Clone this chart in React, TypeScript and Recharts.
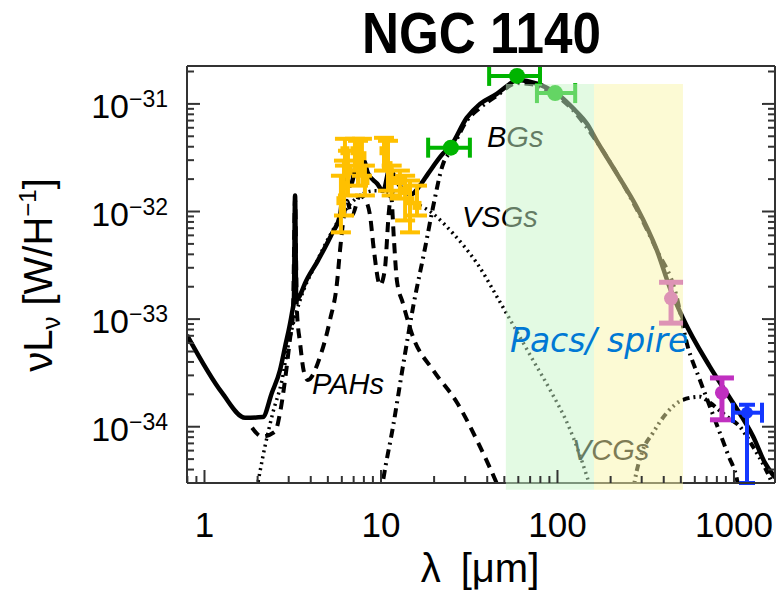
import React from "react";
import {
  ComposedChart,
  Line,
  Scatter,
  ErrorBar,
  XAxis,
  YAxis,
  ReferenceArea,
} from "recharts";

const WIDTH = 780;
const HEIGHT = 592;
const SANS = "'Liberation Sans', Arial, Helvetica, sans-serif";
const FRAME = "#333";

const LAMBDA_RANGE = [0.796, 1708];
const LUM_RANGE = [3.0e-35, 2.25e-31];
const LAMBDA_DECADES = [0.1, 1, 10, 100, 1000];
const LUM_DECADES = [1e-35, 1e-34, 1e-33, 1e-32, 1e-31];
const MINOR_STEPS = [1, 2, 3, 4, 5, 6, 7, 8, 9];

// Pacs / Spire shaded bands (µm) and their vertical extent
const BAND_EDGES = [51, 161, 514];
const BAND_TOP = 1.53e-31;
const BAND_BOTTOM = 2.6e-35;

// model curves: [lambda (µm), nuLnu (W/H)]
const totalModel = [
  [0.796, 7.1e-34], [1.256, 2.07e-34], [1.7, 1.21e-34], [2.14, 1.23e-34],
  [2.41, 2.07e-34], [2.68, 3.37e-34], [2.86, 5.51e-34], [3.13, 1.14e-33],
  [3.21, 1.5e-33], [3.26, 1.41e-32], [3.31, 1.5e-33], [3.48, 1.67e-33],
  [3.71, 2.15e-33], [4.4, 3.52e-33], [5.28, 6.25e-33], [5.86, 9.18e-33],
  [6.25, 2.15e-32], [6.7, 1.74e-32], [7.4, 2.97e-32], [8.0, 2.97e-32],
  [8.4, 2.3e-32], [9.5, 1.82e-32], [10.3, 1.56e-32], [11.2, 2.5e-32],
  [12.2, 1.94e-32], [13.5, 1.56e-32], [14.9, 1.45e-32], [16.6, 1.74e-32],
  [18.5, 2.25e-32], [22.4, 3.44e-32], [24.9, 4.08e-32], [30.6, 7.42e-32],
  [36.4, 1.0e-31], [45.3, 1.24e-31], [51.9, 1.47e-31], [58.9, 1.67e-31],
  [67.1, 1.63e-31], [87, 1.41e-31], [103, 1.19e-31], [122, 9.18e-32],
  [147, 6.53e-32], [167, 4.54e-32], [217, 2.25e-32], [282, 1.09e-32],
  [366, 4.35e-33], [434, 1.94e-33], [514, 1.02e-33], [731, 3.6e-34],
  [987, 1.67e-34], [1286, 8.07e-35], [1496, 4.64e-35], [1708, 3.37e-35],
];

const pahModel = [
  [1.86, 9.8e-35], [2.12, 8.1e-35], [2.51, 9.0e-35], [2.68, 1.35e-34],
  [2.86, 2.72e-34], [3.05, 6.5e-34], [3.17, 1.1e-33], [3.26, 1.3e-32],
  [3.34, 1.2e-33], [3.48, 6.0e-34], [3.65, 3.3e-34], [3.85, 2.72e-34],
  [4.51, 4.45e-34], [5.14, 9.8e-34], [5.63, 2.15e-33], [5.86, 4.35e-33],
  [6.17, 9.18e-33], [6.4, 1.26e-32], [6.85, 9.18e-33], [7.6, 1.41e-32],
  [8.2, 1.26e-32], [8.67, 9.18e-33], [9.12, 4.35e-33], [9.87, 2.07e-33],
  [10.5, 2.84e-33], [11.1, 1.02e-32], [11.4, 1.41e-32], [11.85, 5.38e-33],
  [12.3, 2.3e-33], [13.3, 1.41e-33], [15.2, 6.81e-34], [19.7, 3.37e-34],
  [27.0, 1.67e-34], [36.4, 6.53e-35], [46, 2.8e-35], [50, 2.0e-35],
];

const vsgModel = [
  [1.93, 2.1e-35], [2.2, 6.53e-35], [2.44, 1.35e-34], [2.75, 2.72e-34],
  [2.97, 5.51e-34], [3.48, 1.5e-33], [4.23, 3.16e-33], [5.14, 6.0e-33],
  [6.25, 1.02e-32], [7.6, 1.41e-32], [9.24, 1.56e-32], [11.2, 1.5e-32],
  [14.6, 1.26e-32], [19.7, 9.57e-33], [25.6, 6.25e-33], [35.0, 3.3e-33],
  [49.1, 1.29e-33], [72.6, 4.17e-34], [90.8, 2.2e-34], [118, 9.37e-35],
  [147, 3.44e-35], [158, 2.34e-35],
];

const bgModel = [
  [9.9, 2.1e-35], [10.3, 3.23e-35], [11.7, 1.0e-34], [13.3, 3.6e-34],
  [15.2, 1.29e-33], [17.8, 4.64e-33], [19.7, 1.09e-32], [22.5, 2.78e-32],
  [24.9, 3.67e-32], [30.6, 6.96e-32], [36.4, 9.18e-32], [45.3, 1.19e-31],
  [58.9, 1.56e-31], [69.9, 1.53e-31], [87, 1.35e-31], [122, 8.8e-32],
  [167, 4.45e-32], [282, 1.04e-32], [366, 4.35e-33], [463, 1.86e-33],
  [548, 5.51e-34], [641, 2.72e-34], [780, 1.16e-34], [925, 5.51e-35],
  [1040, 3.23e-35], [1080, 2.3e-35],
];

const vcgModel = [
  [264, 2.1e-35], [275, 3.23e-35], [301, 5.74e-35], [348, 8.8e-35],
  [417, 1.35e-34], [514, 1.78e-34], [641, 1.9e-34], [731, 1.67e-34],
  [912, 1.24e-34], [1081, 1.0e-34], [1282, 6.53e-35], [1499, 4.17e-35],
  [1708, 2.6e-35],
];

// IRS spectrum: [lambda, value, low, high]
const irsPoints = [
  [5.93, 1.26e-32, 6.4e-33, 2.15e-32],
  [6.17, 1.74e-32, 9.18e-33, 2.97e-32],
  [6.25, 3.67e-32, 2.67e-32, 4.74e-32],
  [6.5, 2.4e-32, 1.41e-32, 3.67e-32],
  [7.12, 3.67e-32, 2.4e-32, 4.74e-32],
  [7.41, 2.67e-32, 1.74e-32, 4.54e-32],
  [7.8, 3.3e-32, 2.15e-32, 4.74e-32],
  [8.11, 1.94e-32, 1.41e-32, 2.67e-32],
  [10.4, 3.67e-32, 2.4e-32, 4.84e-32],
  [10.96, 2.67e-32, 1.56e-32, 4.54e-32],
  [11.5, 1.94e-32, 1.41e-32, 2.67e-32],
  [12.8, 1.94e-32, 1.32e-32, 2.4e-32],
  [13.7, 1.56e-32, 8.26e-33, 2.15e-32],
  [14.6, 1.26e-32, 6.4e-33, 1.94e-32],
  [16.0, 1.14e-32, 9.18e-33, 1.74e-32],
];

// MIPS / PACS photometry: [lambda, value, lambda low, lambda high]
const farIrPoints = [
  [24.9, 3.92e-32, 18.5, 31.9],
  [59, 1.82e-31, 41, 79.6],
  [97, 1.26e-31, 76.5, 126],
];

// submm: [lambda, value, low, high]
const submmPoints = [
  [440, 1.56e-33, 9.18e-34, 2.2e-33],
  [855, 2.07e-34, 1.16e-34, 2.84e-34],
];

// mm: [lambda, value, lambda low, lambda high, low, high]
const mmPoints = [[1185, 1.35e-34, 987, 1442, 3.0e-35, 1.6e-34]];

const curve = (pts: number[][]) => pts.map(([x, y]) => ({ x, y }));

const irsData = irsPoints.map(([x, y, lo, hi]) => ({ x, y, ey: [y - lo, hi - y] }));
const farIrData = farIrPoints.map(([x, y, lo, hi]) => ({ x, y, ex: [x - lo, hi - x] }));
const submmData = submmPoints.map(([x, y, lo, hi]) => ({ x, y, ey: [y - lo, hi - y] }));
const mmData = mmPoints.map(([x, y, xlo, xhi, lo, hi]) => ({
  x,
  y,
  ex: [x - xlo, xhi - x],
  ey: [y - lo, hi - y],
}));

const logTicks = (decades: number[], range: number[]) => {
  const out: number[] = [];
  decades.forEach((d) =>
    MINOR_STEPS.forEach((s) => {
      const v = d * s;
      if (v >= range[0] * 1.001 && v <= range[1]) out.push(v);
    })
  );
  return out;
};
const xTicks = logTicks(LAMBDA_DECADES, LAMBDA_RANGE);
const yTicks = logTicks(LUM_DECADES, LUM_RANGE);

const isMajor = (v: number) => {
  const l = Math.log10(v);
  return Math.abs(l - Math.round(l)) < 1e-6;
};

const MAJOR_LEN = 13;
const MINOR_LEN = 7;

function BottomTick({ x, y, payload }: any) {
  const major = isMajor(payload.value);
  return (
    <g>
      <line x1={x} x2={x} y1={y} y2={y - (major ? MAJOR_LEN : MINOR_LEN)} stroke={FRAME} strokeWidth={2} />
      {major && (
        <text x={x} y={y + 54} textAnchor="middle" fontSize={35} fontFamily={SANS} fill="#000">
          {Math.round(payload.value)}
        </text>
      )}
    </g>
  );
}

function TopTick({ x, y, payload }: any) {
  const major = isMajor(payload.value);
  return <line x1={x} x2={x} y1={y} y2={y + (major ? MAJOR_LEN : MINOR_LEN)} stroke={FRAME} strokeWidth={2} />;
}

function LeftTick({ x, y, payload }: any) {
  const major = isMajor(payload.value);
  const exp = Math.round(Math.log10(payload.value));
  return (
    <g>
      <line x1={x} x2={x + (major ? MAJOR_LEN : MINOR_LEN)} y1={y} y2={y} stroke={FRAME} strokeWidth={2} />
      {major && (
        <text x={x - 19} y={y + 14} textAnchor="end" fontSize={34} fontFamily={SANS} fill="#000">
          10
          <tspan fontSize={23} dy={-11}>
            {"\u2212" + Math.abs(exp)}
          </tspan>
        </text>
      )}
    </g>
  );
}

function RightTick({ x, y, payload }: any) {
  const major = isMajor(payload.value);
  return <line x1={x} x2={x - (major ? MAJOR_LEN : MINOR_LEN)} y1={y} y2={y} stroke={FRAME} strokeWidth={2} />;
}

const blob = (r: number, fill: string) => (p: any) =>
  <circle cx={p.cx} cy={p.cy} r={r} fill={fill} />;
const square = (s: number, fill: string) => (p: any) =>
  <rect x={p.cx - s / 2} y={p.cy - s / 2} width={s} height={s} fill={fill} />;

const YELLOW = "#ffc000";
const GREEN = "#00b400";
const MAGENTA = "#c030c0";
const BLUE = "#1438ff";

const annotation = { fontFamily: SANS, fontStyle: "italic", fontSize: 29, fill: "#000" } as const;

const axisCommon = {
  type: "number" as const,
  scale: "log" as const,
  allowDataOverflow: true,
  interval: 0 as const,
  tickSize: 0,
  tickMargin: 0,
  tickLine: false,
  axisLine: { stroke: FRAME, strokeWidth: 2 },
};

export default function App() {
  return (
    <div style={{ position: "absolute", left: 0, top: 0, width: WIDTH, height: HEIGHT, background: "#fff" }}>
      {/* component labels, drawn beneath the shaded bands */}
      <svg width={WIDTH} height={HEIGHT} style={{ position: "absolute", left: 0, top: 0 }}>
        <text x={487} y={147} {...annotation}>BGs</text>
        <text x={462} y={227} {...annotation}>VSGs</text>
        <text x={312} y={394} {...annotation}>PAHs</text>
        <text x={572} y={460} {...annotation}>VCGs</text>
      </svg>

      <div style={{ position: "absolute", left: 0, top: 0 }}>
        <ComposedChart width={WIDTH} height={HEIGHT} margin={{ top: 65, right: 4, bottom: 108, left: 186 }}>
          <XAxis {...axisCommon} dataKey="x" domain={LAMBDA_RANGE} ticks={xTicks} height={1} tick={<BottomTick />} />
          <XAxis {...axisCommon} xAxisId="top" orientation="top" domain={LAMBDA_RANGE} ticks={xTicks} height={1} tick={<TopTick />} />
          <YAxis {...axisCommon} dataKey="y" domain={LUM_RANGE} ticks={yTicks} width={1} tick={<LeftTick />} />
          <YAxis {...axisCommon} yAxisId="right" orientation="right" domain={LUM_RANGE} ticks={yTicks} width={1} tick={<RightTick />} />

          <Line data={curve(vsgModel)} dataKey="y" type="monotone" stroke="#000" strokeWidth={3.5} strokeDasharray="2 4" dot={false} activeDot={false} isAnimationActive={false} />
          <Line data={curve(pahModel)} dataKey="y" type="monotone" stroke="#000" strokeWidth={4} strokeDasharray="10 7" dot={false} activeDot={false} isAnimationActive={false} />
          <Line data={curve(bgModel)} dataKey="y" type="monotone" stroke="#000" strokeWidth={4} strokeDasharray="9 5 2 5" dot={false} activeDot={false} isAnimationActive={false} />
          <Line data={curve(vcgModel)} dataKey="y" type="monotone" stroke="#000" strokeWidth={4} strokeDasharray="7 4 2 4 2 4 2 4" dot={false} activeDot={false} isAnimationActive={false} />
          <Line data={curve(totalModel)} dataKey="y" type="monotone" stroke="#000" strokeWidth={4.5} dot={false} activeDot={false} isAnimationActive={false} />

          <Scatter data={irsData} dataKey="y" shape={square(9, YELLOW)} isAnimationActive={false}>
            <ErrorBar dataKey="ey" direction="y" width={10} stroke={YELLOW} strokeWidth={4} />
          </Scatter>
          <Scatter data={farIrData} dataKey="y" shape={blob(8, GREEN)} isAnimationActive={false}>
            <ErrorBar dataKey="ex" direction="x" width={10} stroke={GREEN} strokeWidth={4} />
          </Scatter>
          <Scatter data={submmData} dataKey="y" shape={blob(7, MAGENTA)} isAnimationActive={false}>
            <ErrorBar dataKey="ey" direction="y" width={12} stroke={MAGENTA} strokeWidth={5} />
          </Scatter>
          <Scatter data={mmData} dataKey="y" shape={blob(6, BLUE)} isAnimationActive={false}>
            <ErrorBar dataKey="ex" direction="x" width={10} stroke={BLUE} strokeWidth={4} />
            <ErrorBar dataKey="ey" direction="y" width={8} stroke={BLUE} strokeWidth={4} />
          </Scatter>

          <ReferenceArea
            x1={BAND_EDGES[0]}
            x2={BAND_EDGES[1]}
            y1={BAND_BOTTOM}
            y2={BAND_TOP}
            fill="rgb(200,245,200)"
            fillOpacity={0.5}
            stroke="none"
            ifOverflow="visible"
            zIndex={1500}
          />
          <ReferenceArea
            x1={BAND_EDGES[1]}
            x2={BAND_EDGES[2]}
            y1={BAND_BOTTOM}
            y2={BAND_TOP}
            fill="rgb(250,245,170)"
            fillOpacity={0.5}
            stroke="none"
            ifOverflow="visible"
            zIndex={1500}
          />
        </ComposedChart>
      </div>

      {/* title, axis titles and band label above everything */}
      <svg width={WIDTH} height={HEIGHT} style={{ position: "absolute", left: 0, top: 0, pointerEvents: "none" }}>
        <text
          x={362}
          y={53}
          textLength={239}
          lengthAdjust="spacingAndGlyphs"
          fontFamily={SANS}
          fontWeight="bold"
          fontSize={58}
          fill="#000"
        >
          NGC 1140
        </text>
        <text x={480} y={582} textAnchor="middle" fontFamily={SANS} fontSize={40} fill="#000">
          {"\u03bb\u2002[\u03bcm]"}
        </text>
        <text transform="translate(52,275) rotate(-90)" textAnchor="middle" fontFamily={SANS} fontSize={40} fill="#000">
          {"\u03bdL"}
          <tspan fontSize={26} dy={8}>{"\u03bd"}</tspan>
          <tspan dy={-8}>{" [W/H"}</tspan>
          <tspan fontSize={24} dy={-16}>{"\u22121"}</tspan>
          <tspan dy={16}>]</tspan>
        </text>
        <text x={510} y={352} fontFamily="'DejaVu Sans', sans-serif" fontStyle="italic" fontSize={33} fill="#0078d4">
          Pacs/ spire
        </text>
      </svg>
    </div>
  );
}
